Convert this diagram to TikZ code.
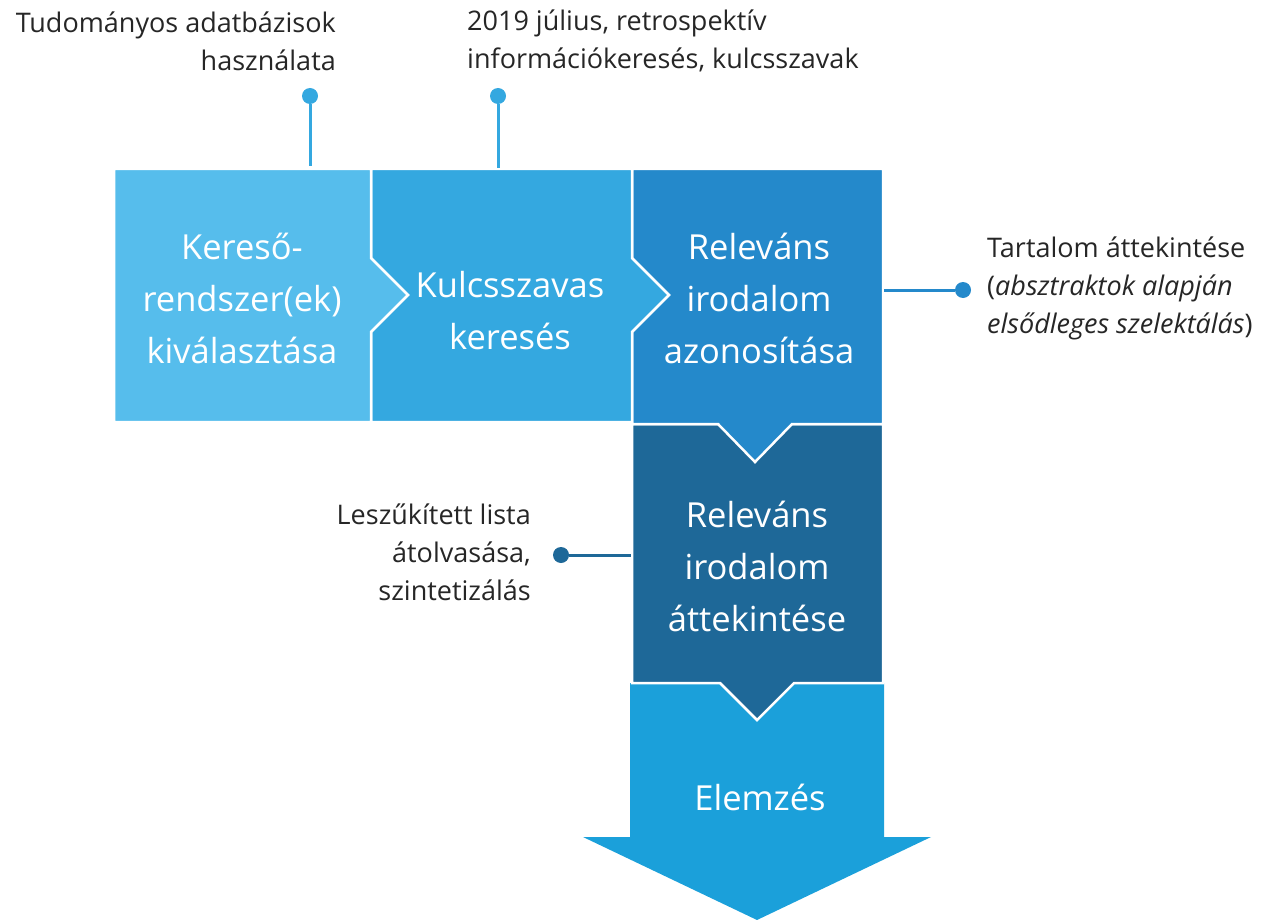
\documentclass[tikz,border=0pt]{standalone}
\usepackage{fontspec}
\setmainfont{Open Sans}
\definecolor{cOne}{RGB}{86,189,236}
\definecolor{cTwo}{RGB}{52,168,224}
\definecolor{cThree}{RGB}{36,137,203}
\definecolor{cFour}{RGB}{30,104,152}
\definecolor{cFive}{RGB}{27,160,218}
\definecolor{ink}{RGB}{38,38,38}
\begin{document}
\begin{tikzpicture}[x=1pt,y=-1pt,
  stage/.style={fill=#1, draw=white, line width=2.5pt, line join=miter},
  stagetext/.style={text=white, font=\fontsize{34.5}{52}\selectfont, align=center, inner sep=0pt},
  note/.style={text=ink, font=\fontsize{27}{38}\selectfont, inner sep=0pt},
  dot/.style={circle, fill=#1, inner sep=0pt, minimum size=16pt},
  lead/.style={draw=#1, line width=3pt}]
\useasboundingbox (0,0) rectangle (1279,920);

% process stages, last one first so every chevron tip lies on top of the next stage
\fill[cFive] (630,683) -- (884,683) -- (884,837) -- (931,837) -- (757,920)
  -- (583,837) -- (630,837) -- cycle;
\path[stage=cFour] (632,424) -- (883,424) -- (883,683) -- (794,683) -- (757,720)
  -- (720,683) -- (632,683) -- cycle;
\path[stage=cThree] (632,169) -- (883,169) -- (883,424) -- (792,424) -- (755,462)
  -- (718,424) -- (632,424) -- cycle;
\path[stage=cTwo] (371,169) -- (632,169) -- (632,258) -- (669,295) -- (632,332)
  -- (632,422) -- (371,422) -- cycle;
\path[stage=cOne] (114,169) -- (371,169) -- (371,258) -- (408,295) -- (371,332)
  -- (371,422) -- (114,422) -- cycle;

% stage labels
\node[stagetext] (s1) at (242,298) {Kereső-\\rendszer(ek)\\kiválasztása};
\node[stagetext] (s2) at (510,311) {Kulcsszavas\\keresés};
\node[stagetext] (s3) at (759,298) {Releváns\\irodalom\\azonosítása};
\node[stagetext] (s4) at (757,566) {Releváns\\irodalom\\áttekintése};
\node[stagetext] (s5) at (760,797) {Elemzés};

% callout ends on the stage borders
\coordinate (e1) at (310,166);
\coordinate (e2) at (498,168);
\coordinate (e3) at (884,290);
\coordinate (e4) at (631,555);

% callout dots
\node[dot=cTwo] (p1) at (310,96) {};
\node[dot=cTwo] (p2) at (498,96) {};
\node[dot=cThree] (p3) at (963,290) {};
\node[dot=cFour] (p4) at (561,555) {};

\draw[lead=cTwo] (p1) -- (e1);
\draw[lead=cTwo] (p2) -- (e2);
\draw[lead=cThree] (e3) -- (p3);
\draw[lead=cFour] (p4) -- (e4);

% callout texts
\node[note, anchor=east, align=right] (n1) at (336,41)
  {Tudományos adatbázisok\\használata};
\node[note, anchor=west, align=left] (n2) at (467,41)
  {2019 július, retrospektív\\információkeresés, kulcsszavak};
\node[note, anchor=west, align=left] (n3) at (987,288)
  {Tartalom áttekintése\\(\textit{absztraktok alapján}\\\textit{elsődleges szelektálás})};
\node[note, anchor=east, align=right] (n4) at (531,552)
  {Leszűkített lista\\átolvasása,\\szintetizálás};
\end{tikzpicture}
\end{document}
